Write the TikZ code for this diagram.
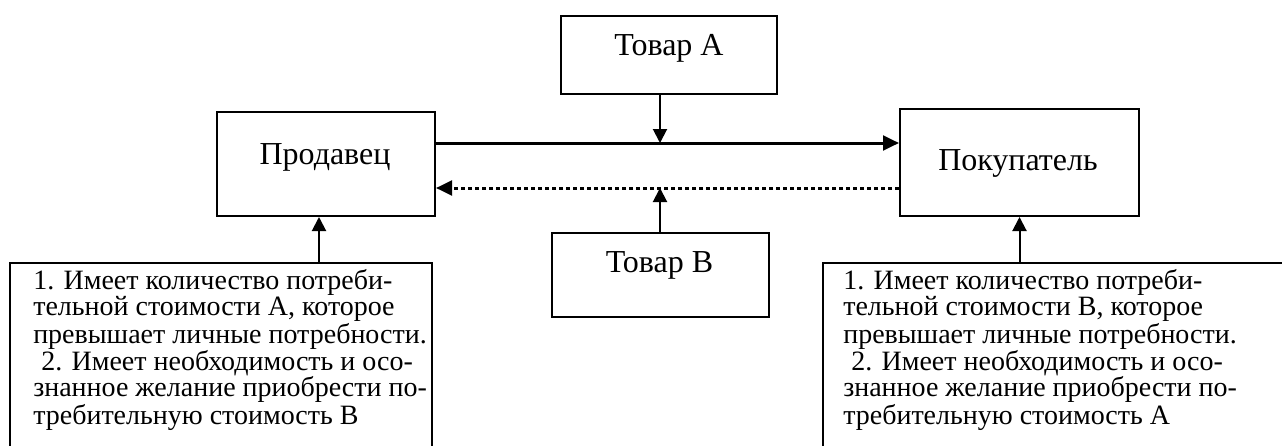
\documentclass[tikz,border=0pt]{standalone}
\usepackage{fontspec}
\setmainfont{Liberation Serif}
\usetikzlibrary{arrows.meta}

\tikzset{
  box/.style={draw, line width=1.5pt, rectangle, inner sep=0pt, anchor=north west},
  lbl/.style={inner sep=0pt, anchor=base, font=\fontsize{24}{28}\selectfont},
  note/.style={inner sep=0pt, anchor=base west, align=left, font=\fontsize{21}{19.5}\selectfont},
  link/.style={line width=1.5pt, -{Triangle[length=10.5pt,width=10.5pt]}},
  flow/.style={line width=2.25pt, -{Triangle[length=12pt,width=11pt]}},
}

\begin{document}
\begin{tikzpicture}[x=0.75pt,y=0.75pt,yscale=-1,xscale=1]
\useasboundingbox (0,0) rectangle (1282,446);
\clip (0,0) rectangle (1282,446);

%Shape: Rectangle
\node[box, minimum width=162pt, minimum height=58.5pt] (tovA) at (560,15) {};
%Shape: Rectangle
\node[box, minimum width=163.5pt, minimum height=78pt] (prod) at (216,111) {};
%Shape: Rectangle
\node[box, minimum width=179.25pt, minimum height=80.25pt] (pok) at (899,108) {};
%Shape: Rectangle
\node[box, minimum width=162.75pt, minimum height=63pt] (tovB) at (551,232) {};
%Shape: Rectangle
\node[box, minimum width=316.5pt, minimum height=156pt] (sellNote) at (9,262) {};
%Shape: Rectangle
\node[box, minimum width=358.5pt, minimum height=156pt] (buyNote) at (822,262) {};

%Joints on the flows
\coordinate (jA) at (660,143);
\coordinate (jB) at (660,188);

%Straight Lines
\draw[flow] (prod.east |- jA) -- (pok.west |- jA);
\draw[flow, dash pattern=on 3pt off 2.25pt] (pok.west |- jB) -- (prod.east |- jB);
\draw[link] (tovA.south -| jA) -- (jA);
\draw[link] (tovB.north -| jB) -- (jB);
\draw[link] ([xshift=-5.25pt]prod.south |- sellNote.north) -- ([xshift=-5.25pt]prod.south);
\draw[link] (pok.south |- buyNote.north) -- (pok.south);

% Text Node
\node[lbl] (tovAT) at (669,55) {Товар А};
% Text Node
\node[lbl] (prodT) at (325,164) {Продавец};
% Text Node
\node[lbl] (pokT) at (1018,170) {Покупатель};
% Text Node
\node[lbl] (tovBT) at (659.5,272) {Товар В};
% Text Node
\node[note] (sellT) at (33,424) {1. Имеет количество потреби-\\тельной стоимости А, которое\\превышает личные потребности.\\\hspace*{6pt}2. Имеет необходимость и осо-\\знанное желание приобрести по-\\требительную стоимость В};
% Text Node
\node[note] (buyT) at (843,424) {1. Имеет количество потреби-\\тельной стоимости В, которое\\превышает личные потребности.\\\hspace*{6pt}2. Имеет необходимость и осо-\\знанное желание приобрести по-\\требительную стоимость А};

\end{tikzpicture}
\end{document}
